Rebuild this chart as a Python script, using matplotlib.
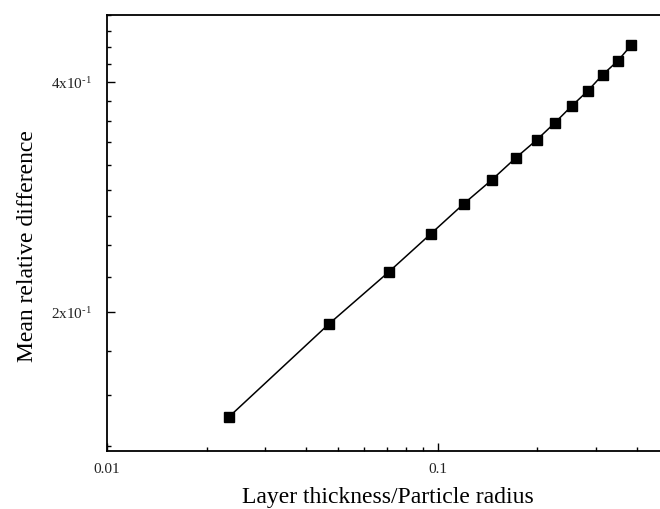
import numpy as np
import matplotlib
matplotlib.use("Agg")
import matplotlib.pyplot as plt
from matplotlib.ticker import FixedLocator, NullFormatter

plt.rcParams['font.family'] = ['Liberation Serif', 'DejaVu Serif']
plt.rcParams['mathtext.fontset'] = 'custom'
plt.rcParams['mathtext.rm'] = 'Liberation Serif'
plt.rcParams['mathtext.it'] = 'Liberation Serif:italic'

x_ratio = [0.0234, 0.0469, 0.0711, 0.0952, 0.1198, 0.1456, 0.172, 0.199,
           0.2257, 0.254, 0.284, 0.315, 0.350, 0.385]
mean_rel_diff = [0.1458, 0.1929, 0.2256, 0.2530, 0.2770, 0.2977, 0.3181, 0.3358,
                 0.3535, 0.3720, 0.3893, 0.4087, 0.4262, 0.4472]

x_major = [0.01, 0.1]
x_major_labels = ['0.01', '0.1']
y_major = [0.2, 0.4]
y_major_labels = [r'2x10$^{\text{-1}}$', r'4x10$^{\text{-1}}$']

fig = plt.figure(figsize=(6.6, 5.1), dpi=100)
ax = fig.add_axes([107/660, 58/510, 562/660, 436/510])

ax.plot(x_ratio, mean_rel_diff, color='black', lw=1.1, marker='s',
        markersize=6.5, markerfacecolor='black', markeredgecolor='black')

ax.set_xscale('log')
ax.set_yscale('log')
ax.set_xlim(0.01, 0.5)
ax.set_ylim(0.1315, 0.4894)

ax.xaxis.set_major_locator(FixedLocator(x_major))
ax.set_xticklabels(x_major_labels)
ax.xaxis.set_minor_locator(FixedLocator([k * 0.01 for k in range(2, 10)] + [k * 0.1 for k in range(2, 5)]))
ax.xaxis.set_minor_formatter(NullFormatter())

ax.yaxis.set_major_locator(FixedLocator(y_major))
ax.set_yticklabels(y_major_labels)
ax.yaxis.set_minor_locator(FixedLocator([k * 0.2 / 9 for k in range(6, 23) if k not in (9, 18)]))
ax.yaxis.set_minor_formatter(NullFormatter())

ax.tick_params(which='both', direction='in', color='black', labelcolor='#222222')
ax.tick_params(which='major', length=6, width=1.0, labelsize=11)
ax.tick_params(axis='x', which='major', pad=8)
ax.tick_params(axis='y', which='major', pad=11)
ax.tick_params(which='minor', length=3, width=1.0)

for s in ax.spines.values():
    s.set_linewidth(1.3)

ax.set_xlabel('Layer thickness/Particle radius', fontsize=17, labelpad=8)
ax.set_ylabel('Mean relative difference', fontsize=17)
ax.yaxis.set_label_coords(-0.122, 0.4725)

fig.savefig('out.png', dpi=100)
